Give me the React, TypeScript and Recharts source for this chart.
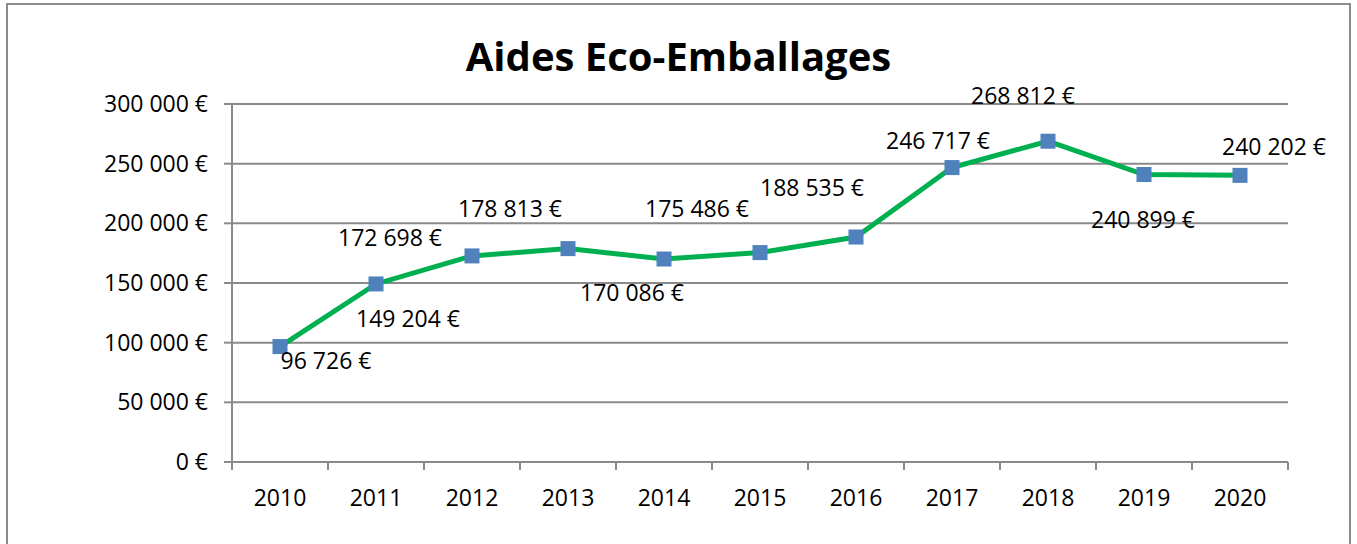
import { LineChart, Line, XAxis, YAxis, CartesianGrid, LabelList } from 'recharts';

const years = ['2010', '2011', '2012', '2013', '2014', '2015', '2016', '2017', '2018', '2019', '2020'];
const aides = [96726, 149204, 172698, 178813, 170086, 175486, 188535, 246717, 268812, 240899, 240202];
const yTicks = [0, 50000, 100000, 150000, 200000, 250000, 300000];

// where each value label sits relative to its point (dx, dy of the text centre)
const labelOffsets = [
  [46, 13], [32, 34], [-82, -19], [-58, -41], [-32, 33], [-63, -45],
  [-44, -50], [-14, -28], [-25, -46], [-1, 44], [34, -29],
];

const data = years.map((year, i) => ({ year, value: aides[i] }));

const W = 1357;
const H = 544;
const PLOT_LEFT = 232;
const PLOT_RIGHT = 1288;
const PLOT_TOP = 104;
const PLOT_BOTTOM = 462;
const BAND = (PLOT_RIGHT - PLOT_LEFT) / years.length;

const FONT = '"Open Sans", sans-serif';
const AXIS = '#8a8a8a';
const FS = 23;

const euro = (v: number) => `${String(Math.round(v)).replace(/\B(?=(\d{3})+(?!\d))/g, ' ')} €`;

const YearTick = (props: any) => {
  const { x, payload, index } = props;
  const left = x - BAND / 2;
  return (
    <g>
      <line x1={left} x2={left} y1={PLOT_BOTTOM} y2={PLOT_BOTTOM + 8} stroke={AXIS} strokeWidth={2} />
      {index === years.length - 1 && (
        <line x1={x + BAND / 2} x2={x + BAND / 2} y1={PLOT_BOTTOM} y2={PLOT_BOTTOM + 8} stroke={AXIS} strokeWidth={2} />
      )}
      <text x={x} y={PLOT_BOTTOM + 35} textAnchor="middle" dominantBaseline="central" fill="#000" fontSize={FS} fontFamily={FONT}>
        {payload.value}
      </text>
    </g>
  );
};

const Square = (props: any) => {
  const { cx, cy, index } = props;
  return <rect key={`m${index}`} x={cx - 7.5} y={cy - 7.5} width={15} height={15} fill="#4f81bd" />;
};

const ValueLabel = (props: any) => {
  const { x, y, value, index } = props;
  const [dx, dy] = labelOffsets[index];
  return (
    <text x={x + dx} y={y + dy} textAnchor="middle" dominantBaseline="central" fill="#000" fontSize={FS} fontFamily={FONT}>
      {euro(value)}
    </text>
  );
};

export default function App() {
  return (
    <div style={{ position: 'absolute', left: 0, top: 0, width: W, height: H, overflow: 'hidden', background: '#fff' }}>
      <div
        style={{
          position: 'absolute', left: 6, top: 3, width: 1345, height: 580,
          border: '2px solid #8c8c8c', boxSizing: 'border-box',
        }}
      />
      <div
        style={{
          position: 'absolute', left: 0, top: 26, width: W, textAlign: 'center',
          fontFamily: FONT, fontWeight: 700, fontSize: 40, color: '#000', lineHeight: '60px',
        }}
      >
        Aides Eco-Emballages
      </div>
      <div style={{ position: 'absolute', left: 0, top: 0 }}>
        <LineChart width={W} height={H} data={data} margin={{ top: PLOT_TOP, right: W - PLOT_RIGHT, left: 0, bottom: 0 }}>
          <CartesianGrid vertical={false} stroke={AXIS} strokeWidth={2} />
          <XAxis
            dataKey="year"
            height={H - PLOT_BOTTOM}
            stroke={AXIS}
            strokeWidth={2}
            tickLine={false}
            tick={<YearTick />}
            interval={0}
            padding={{ left: BAND / 2, right: BAND / 2 }}
          />
          <YAxis
            width={PLOT_LEFT}
            domain={[0, 300000]}
            ticks={yTicks}
            tickFormatter={euro}
            stroke={AXIS}
            strokeWidth={2}
            tickSize={8}
            tickMargin={16}
            tick={{ fill: '#000', fontSize: FS, fontFamily: FONT }}
          />
          <Line
            dataKey="value"
            type="linear"
            stroke="#00b050"
            strokeWidth={5}
            dot={<Square />}
            activeDot={false}
            isAnimationActive={false}
          >
            <LabelList dataKey="value" content={<ValueLabel />} />
          </Line>
        </LineChart>
      </div>
    </div>
  );
}
